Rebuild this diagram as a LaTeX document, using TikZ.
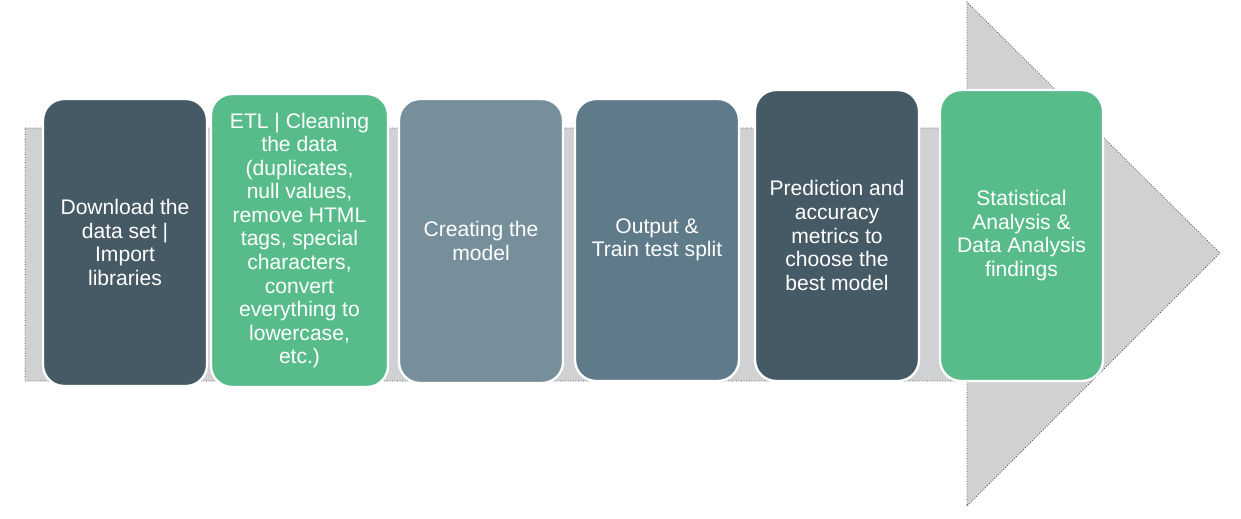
\documentclass[tikz,border=0pt]{standalone}
\usepackage{fontspec}
\setmainfont{Liberation Sans}
\definecolor{arrowgray}{HTML}{D0D1D3}
\definecolor{darkslate}{HTML}{465A66}
\definecolor{lightslate}{HTML}{778F9B}
\definecolor{midslate}{HTML}{5F7B89}
\definecolor{stepgreen}{HTML}{58BC8A}
\tikzset{
  stepbox/.style={draw=white, line width=1.3pt, rounded corners=12pt, inner sep=0pt,
    align=center, text=white, font=\fontsize{12}{13.4}\selectfont},
  arrowshape/.style={fill=arrowgray, draw=black!70, densely dotted, line width=0.45pt}
}
\begin{document}
\begin{tikzpicture}[x=0.02cm,y=-0.02cm]
\useasboundingbox (0,0) rectangle (1241,518);
\coordinate (s1) at (25,128);
\coordinate (s2) at (967,128);
\coordinate (h1) at (967,2);
\coordinate (tip) at (1220,253);
\coordinate (h2) at (967,506);
\coordinate (s3) at (967,381);
\coordinate (s4) at (25,381);
\draw[arrowshape] (s1) -- (s2) -- (h1) -- (tip) -- (h2) -- (s3) -- (s4) -- cycle;

\node[stepbox, fill=darkslate, minimum width=3.28cm, minimum height=5.74cm] (b1) at (125,242.5)
  {Download the\\data set |\\Import\\libraries};
\node[stepbox, fill=stepgreen, minimum width=3.54cm, minimum height=5.86cm] (b2) at (299.5,240.5)
  {ETL | Cleaning\\the data\\(duplicates,\\null values,\\remove HTML\\tags, special\\characters,\\convert\\everything to\\lowercase,\\etc.)};
\node[stepbox, fill=lightslate, minimum width=3.28cm, minimum height=5.68cm] (b3) at (481,241)
  {Creating the\\model};
\node[stepbox, fill=midslate, minimum width=3.28cm, minimum height=5.64cm] (b4) at (657,240)
  {Output \&\\Train test split};
\node[stepbox, fill=darkslate, minimum width=3.28cm, minimum height=5.82cm] (b5) at (837,235.5)
  {Prediction and\\accuracy\\metrics to\\choose the\\best model};
\node[stepbox, fill=stepgreen, minimum width=3.26cm, minimum height=5.82cm] (b6) at (1021.5,235.5)
  {Statistical\\Analysis \&\\Data Analysis\\findings};
\end{tikzpicture}
\end{document}
